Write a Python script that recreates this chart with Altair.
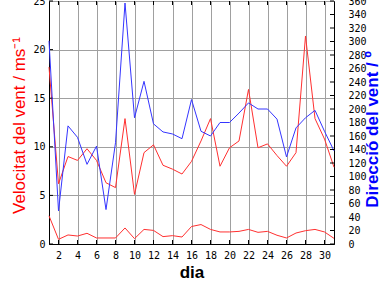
import altair as alt
import pandas as pd

# ---- data ----
days = list(range(1, 32))
vel_max = [18.2, 6.2, 9.0, 8.6, 9.8, 8.6, 6.3, 5.8, 12.9, 5.1, 9.4, 10.2, 8.1, 7.7, 7.2, 8.5,
           10.6, 12.9, 8.0, 9.9, 10.6, 15.9, 9.9, 10.3, 9.1, 8.0, 9.4, 21.4, 12.9, 10.8, 7.9]
vel_mean = [2.9, 0.48, 0.93, 0.82, 1.1, 0.62, 0.62, 0.62, 1.65, 0.55, 1.5, 1.4, 0.76, 0.86, 0.72, 1.8,
            2.0, 1.5, 1.24, 1.24, 1.3, 1.5, 1.2, 1.3, 0.9, 0.62, 1.13, 1.37, 1.5, 1.24, 0.58]
direccio = [301, 49, 175, 158, 118, 145, 51, 150, 357, 187, 241, 178, 166, 163, 156, 214,
            167, 160, 180, 180, 194, 209, 200, 200, 185, 129, 172, 187, 198, 167, 138]
x_ticks = list(range(2, 31, 2))
vel_ticks = [0, 5, 10, 15, 20, 25]
dir_ticks = list(range(0, 361, 20))

df = pd.DataFrame({"dia": days, "vmax": vel_max, "vmean": vel_mean, "dir": direccio})
df_xt = pd.DataFrame({"dia": x_ticks})
df_vt = pd.DataFrame({"vmax": vel_ticks})
df_dt = pd.DataFrame({"dir": dir_ticks})

W, H = 285, 243
RED = "#ff3030"
BLUE = "#3535ff"
LABEL_FONT = "DejaVu Sans Mono"
TITLE_FONT = "Liberation Sans"

xscale = alt.Scale(domain=[1, 31], nice=False, zero=False)
yl = alt.Scale(domain=[0, 25], nice=False)
yr = alt.Scale(domain=[0, 360], nice=False)

xaxis = alt.Axis(values=x_ticks, title="dia", grid=True, gridColor="#a0a0a0", gridOpacity=1,
                 ticks=False, labelPadding=6, labelFont=LABEL_FONT, labelFontSize=10,
                 labelColor="black", domainColor="black", titleFont=TITLE_FONT,
                 titleFontSize=17, titleFontWeight="bold", titleColor="black",
                 titleY=33, titleBaseline="alphabetic")
ylaxis = alt.Axis(values=vel_ticks, title="Velocitat del vent / ms⁻¹", grid=True,
                  gridColor="#a0a0a0", gridOpacity=1, ticks=False, labelPadding=4,
                  labelFont=LABEL_FONT, labelFontSize=10, labelColor="black",
                  domainColor="black", titleFont=TITLE_FONT, titleFontSize=17,
                  titleFontWeight="normal", titleColor="#ff0000", titleAngle=270,
                  titleX=-25, titleY=124, titleBaseline="alphabetic", titleAlign="center")
yraxis = alt.Axis(values=dir_ticks, title="Direcció del vent / º", orient="right", grid=False,
                  ticks=False, labelPadding=14, labelFont=LABEL_FONT, labelFontSize=10,
                  labelColor="black", domainColor="black", titleFont=TITLE_FONT,
                  titleFontSize=17, titleFontWeight="bold", titleColor="#0000ff",
                  titleAngle=270, titleX=43, titleY=128, titleBaseline="alphabetic",
                  titleAlign="center")

X = lambda f="dia": alt.X(f"{f}:Q", scale=xscale, axis=xaxis)
YL = lambda f: alt.Y(f"{f}:Q", scale=yl, axis=ylaxis)
YR = lambda f: alt.Y(f"{f}:Q", scale=yr, axis=yraxis)

base = alt.Chart(df)
red_max = base.mark_line(color=RED, strokeWidth=1).encode(x=X(), y=YL("vmax"))
red_mean = base.mark_line(color=RED, strokeWidth=1).encode(x=X(), y=YL("vmean"))
left_ticks = alt.Chart(df_vt).mark_rule(color="black").encode(
    x=alt.value(0), x2=alt.value(4), y=YL("vmax"))
bottom_ticks = alt.Chart(df_xt).mark_rule(color="black").encode(
    x=X(), y=alt.value(H), y2=alt.value(H - 4))
top_ticks = alt.Chart(df_xt).mark_rule(color="black").encode(
    x=X(), y=alt.value(0), y2=alt.value(4))

left = alt.layer(red_max, red_mean, left_ticks, bottom_ticks, top_ticks)

blue = base.mark_line(color=BLUE, strokeWidth=1).encode(x=X(), y=YR("dir"))
right_ticks = alt.Chart(df_dt).mark_rule(color="black").encode(
    x=alt.value(W), x2=alt.value(W - 4), y=YR("dir"))
right = alt.layer(blue, right_ticks)

chart = alt.layer(left, right).resolve_scale(y="independent").properties(
    width=W, height=H,
    autosize=alt.AutoSizeParams(type="none"),
    padding={"left": 49, "top": 1, "right": 50, "bottom": 44},
    background="white",
).configure_view(stroke="black", strokeWidth=1)

chart.save("out.html", embed_options={"renderer": "svg", "actions": False})
